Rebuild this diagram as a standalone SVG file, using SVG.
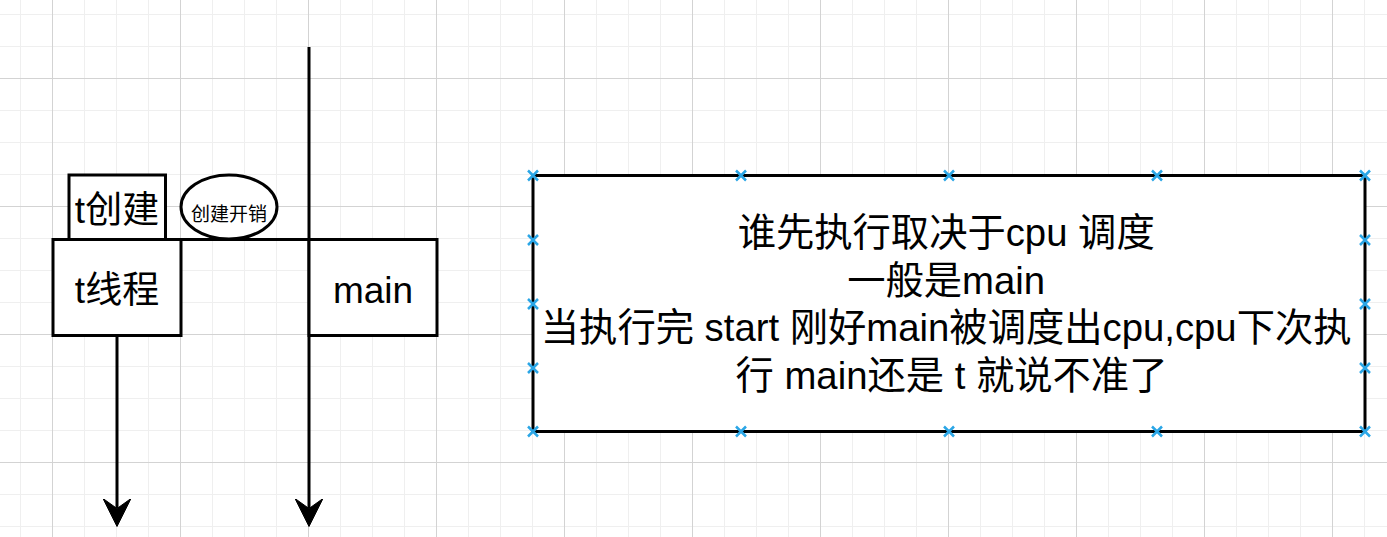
<svg xmlns="http://www.w3.org/2000/svg" width="1387" height="537" viewBox="0 0 1387 537">
<style>
.shape{fill:#ffffff;stroke:#000000;stroke-width:3}
.line{fill:none;stroke:#000000;stroke-width:3}
.t{font-family:"Liberation Sans","Noto Sans CJK SC",sans-serif;fill:#000000;text-anchor:middle}
.pt{stroke:#2ba6e6;stroke-width:2.5;fill:none}
</style>
<defs>
<pattern id="minor" width="32" height="32" x="20" y="14" patternUnits="userSpaceOnUse">
<path d="M0.5,0V32M0,0.5H32" stroke="#efefef" stroke-width="1" fill="none"/>
</pattern>
<pattern id="major" width="128" height="128" x="52" y="78" patternUnits="userSpaceOnUse">
<path d="M0.5,0V128M0,0.5H128" stroke="#d3d3d3" stroke-width="1" fill="none"/>
</pattern>
<marker id="arrow" markerUnits="userSpaceOnUse" markerWidth="30" markerHeight="30" refX="10" refY="14" orient="auto" viewBox="0 0 30 30">
<path d="M0,0 L28,14 L0,28 L10,14 Z" fill="#000000" stroke="#000000" stroke-width="1"/>
</marker>
<path id="x" d="M-5,-5L5,5M-5,5L5,-5"/>
</defs>
<rect x="0" y="0" width="1387" height="537" fill="#ffffff"/>
<rect x="0" y="0" width="1387" height="537" fill="url(#minor)"/>
<rect x="0" y="0" width="1387" height="537" fill="url(#major)"/>

<g id="connectors">
<line class="line" x1="181" y1="239.5" x2="309" y2="239.5"/>
<line class="line" x1="117" y1="335.5" x2="117" y2="508.5" marker-end="url(#arrow)"/>
<line class="line" x1="309" y1="47" x2="309" y2="508.5" marker-end="url(#arrow)"/>
</g>

<g id="t-create">
<rect class="shape" x="69" y="175" width="96.5" height="64.5"/>
<text class="t" x="117" y="223" font-size="37">t创建</text>
</g>

<g id="create-cost">
<ellipse class="shape" cx="229" cy="207" rx="48" ry="32"/>
<text class="t" x="229" y="221" font-size="19">创建开销</text>
</g>

<g id="t-thread">
<rect class="shape" x="53" y="239.5" width="128" height="96"/>
<text class="t" x="117" y="303" font-size="37">t线程</text>
</g>

<g id="main">
<rect class="shape" x="309" y="239.5" width="128" height="96"/>
<text class="t" x="373" y="303" font-size="37">main</text>
</g>

<g id="note">
<rect class="shape" x="533" y="175.5" width="832" height="256"/>
<text class="t" font-size="38.3">
<tspan x="951.5" y="246">谁先执行取决于cpu 调度</tspan>
<tspan x="951.5" y="293.5">一般是main</tspan>
<tspan x="951.5" y="341">当执行完 start 刚好main被调度出cpu,cpu下次执</tspan>
<tspan x="951.5" y="388.5">行 main还是 t 就说不准了</tspan>
</text>
<g class="pt">
<use href="#x" x="533" y="175.5"/><use href="#x" x="741" y="175.5"/><use href="#x" x="949" y="175.5"/><use href="#x" x="1157" y="175.5"/><use href="#x" x="1365" y="175.5"/>
<use href="#x" x="533" y="431.5"/><use href="#x" x="741" y="431.5"/><use href="#x" x="949" y="431.5"/><use href="#x" x="1157" y="431.5"/><use href="#x" x="1365" y="431.5"/>
<use href="#x" x="533" y="240"/><use href="#x" x="533" y="304"/><use href="#x" x="533" y="368"/>
<use href="#x" x="1365" y="240"/><use href="#x" x="1365" y="304"/><use href="#x" x="1365" y="368"/>
</g>
</g>
</svg>
